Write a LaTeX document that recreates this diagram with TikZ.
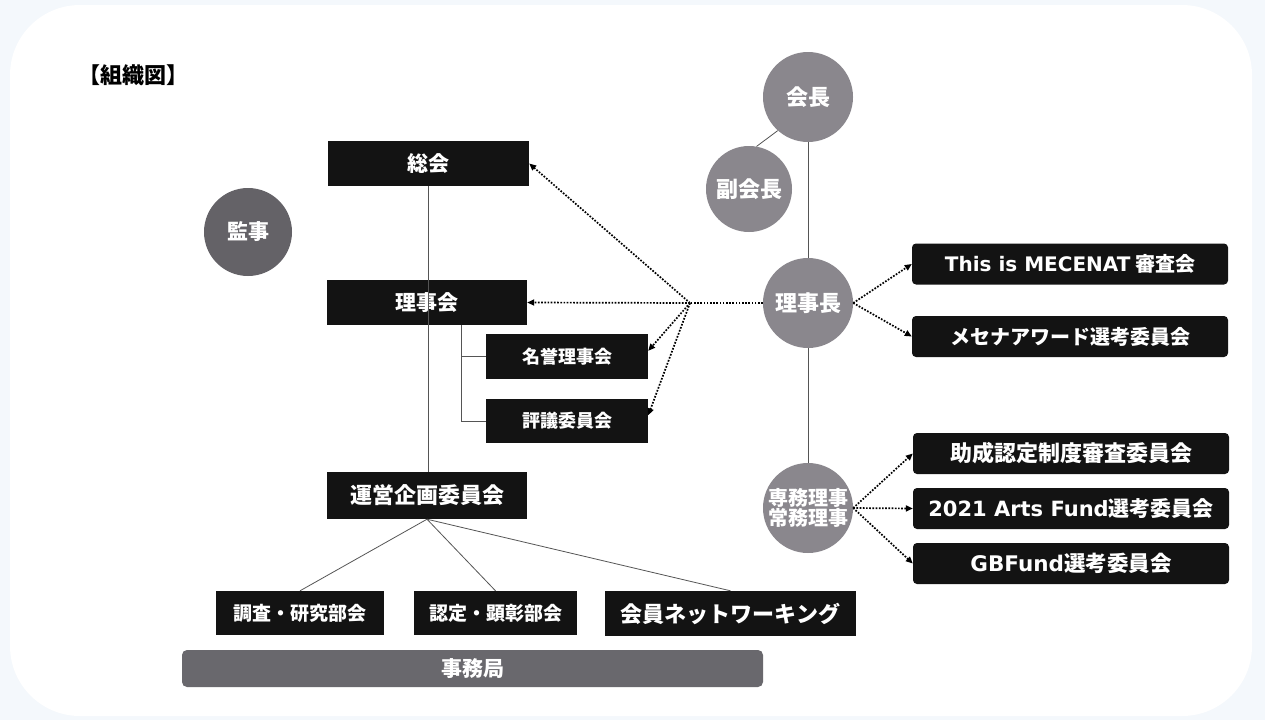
\documentclass[tikz,border=0pt]{standalone}
\usepackage{fontspec}
\setmainfont{Noto Sans CJK JP}
\newfontfamily\lat{DejaVu Sans}
\usetikzlibrary{arrows.meta}
\definecolor{boxblack}{HTML}{131313}
\definecolor{circgray}{HTML}{8A878D}
\definecolor{kansagray}{HTML}{646267}
\definecolor{jimugray}{HTML}{69686D}
\definecolor{bgblue}{HTML}{F4F8FC}
\definecolor{linegray}{HTML}{555555}
\tikzset{
  blackbox/.style={fill=boxblack, text=white, inner sep=0pt, font=\bfseries\fontsize{20}{22}\selectfont},
  smallbox/.style={blackbox, font=\bfseries\fontsize{18}{20}\selectfont},
  rightbox/.style={blackbox, rounded corners=4pt, minimum width=316pt, minimum height=41pt, font=\bfseries\fontsize{20}{22}\selectfont},
  role/.style={circle, fill=circgray, text=white, inner sep=0pt, font=\bfseries\fontsize{22}{24}\selectfont},
  thinline/.style={draw=linegray, line width=0.8pt},
  dotline/.style={line width=1.7pt, dash pattern=on 1.7pt off 1.5pt},
  dotarrow/.style={dotline, -{Triangle[length=7pt,width=6pt]}}
}
\begin{document}
\begin{tikzpicture}[x=1pt,y=-1pt]
% background
\fill[bgblue] (0,0) rectangle (1265,720);
\fill[white, rounded corners=70pt] (10,5) rectangle (1252,716);
\useasboundingbox (0,0) rectangle (1265,720);

% title
\node[anchor=west, inner sep=0pt, font=\bfseries\fontsize{22}{24}\selectfont] (title) at (78,75) {【組織図】};

% left column
\node[blackbox, minimum width=201pt, minimum height=45pt, font=\bfseries\fontsize{21}{23}\selectfont] (sokai) at (428.5,163.5) {総会};
\node[blackbox, minimum width=200pt, minimum height=45pt, font=\bfseries\fontsize{21}{23}\selectfont] (riji) at (427,302.5) {理事会};
\node[smallbox, minimum width=162pt, minimum height=45pt] (meiyo) at (567,356.5) {名誉理事会};
\node[smallbox, minimum width=162pt, minimum height=44pt] (hyogi) at (567,421) {評議委員会};
\node[blackbox, minimum width=200pt, minimum height=47pt, font=\bfseries\fontsize{22}{24}\selectfont] (unei) at (427,495.5) {運営企画委員会};
\node[smallbox, minimum width=168pt, minimum height=44pt, font=\bfseries\fontsize{19}{21}\selectfont] (chosa) at (300,613) {調査・研究部会};
\node[smallbox, minimum width=163pt, minimum height=44pt, font=\bfseries\fontsize{19}{21}\selectfont] (nintei) at (495.5,613) {認定・顕彰部会};
\node[smallbox, minimum width=251pt, minimum height=45pt, font=\bfseries\fontsize{22}{24}\selectfont] (kaiin) at (730.5,613.5) {会員ネットワーキング};
\node[fill=jimugray, rounded corners=5pt, text=white, inner sep=0pt, minimum width=581pt, minimum height=37pt, font=\bfseries\fontsize{21}{23}\selectfont] (jimu) at (472.5,668.5) {事務局};

\node[role, fill=kansagray, minimum size=88pt, font=\bfseries\fontsize{21}{23}\selectfont] (kansa) at (248,232) {監事};

% right column circles
\node[role, minimum size=90pt] (kaicho) at (808,97) {会長};
\node[role, minimum size=86pt] (fuku) at (749,189) {副会長};
\node[role, minimum size=90pt] (rijicho) at (808,303) {理事長};
\node[role, minimum size=90pt, align=center, font=\bfseries\fontsize{20}{20}\selectfont] (semmu) at (808,508) {専務理事\\常務理事};

% right boxes
\node[rightbox] (mecenat) at (1070,264) {{\lat This is MECENAT} 審査会};
\node[rightbox] (award) at (1070,336.5) {メセナアワード選考委員会};
\node[rightbox, font=\bfseries\fontsize{22}{24}\selectfont] (josei) at (1071,453.5) {助成認定制度審査委員会};
\node[rightbox, font=\bfseries\fontsize{21}{23}\selectfont] (arts) at (1071,508.5) {{\lat 2021 Arts Fund}選考委員会};
\node[rightbox, font=\bfseries\fontsize{21.5}{23}\selectfont] (gb) at (1071,563.5) {{\lat GBFund}選考委員会};

% solid connectors
\draw[thinline] (sokai.south) -- (sokai.south |- unei.north);
\coordinate (bt) at (461,325);
\draw[thinline] (bt) |- (hyogi.west);
\draw[thinline] (bt |- meiyo.west) -- (meiyo.west);
\draw[thinline] (unei.south) -- (chosa.north);
\draw[thinline] (unei.south) -- (nintei.north);
\draw[thinline] (unei.south) -- (kaiin.north);
\draw[thinline] (kaicho.south) -- (rijicho.north);
\draw[thinline] (rijicho.south) -- (semmu.north);
\draw[thinline] (kaicho.228) -- (fuku.80);

% dotted arrows
\coordinate (j) at (690,303);
\draw[dotline] (rijicho.west) -- (j);
\draw[dotarrow] (j) -- (sokai.east);
\draw[dotarrow] (j) -- (riji.east);
\draw[dotarrow] (j) -- (meiyo.4);
\draw[dotarrow] (j) -- (hyogi.4);
\draw[dotarrow] (rijicho.east) -- (mecenat.west);
\draw[dotarrow] (rijicho.east) -- (award.west);
\draw[dotarrow] (semmu.east) -- (josei.west);
\draw[dotarrow] (semmu.east) -- (arts.west);
\draw[dotarrow] (semmu.east) -- (gb.west);
\end{tikzpicture}
\end{document}
